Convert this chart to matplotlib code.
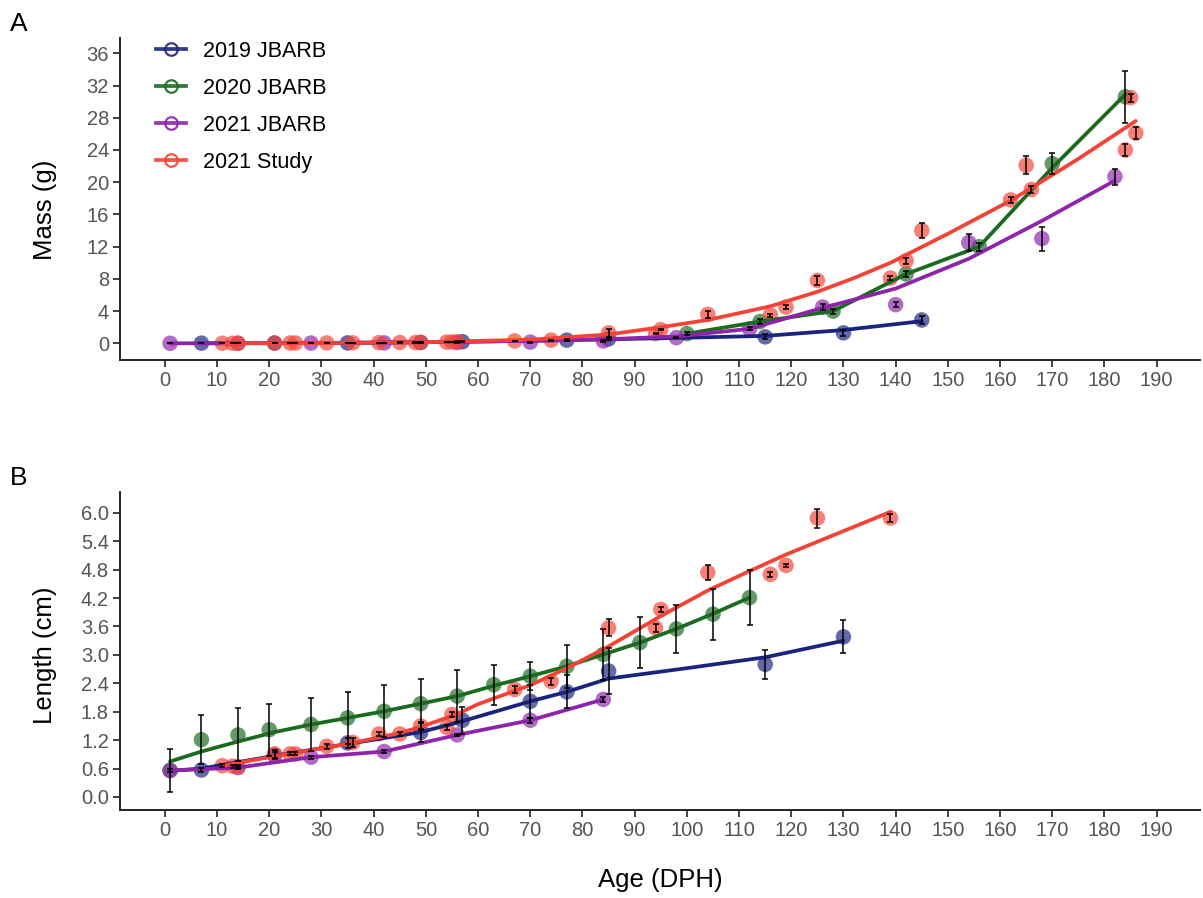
import matplotlib
matplotlib.use("Agg")
import matplotlib.pyplot as plt
from matplotlib.lines import Line2D

plt.rcParams['font.family'] = ['Liberation Sans', 'DejaVu Sans']

# ---------------- colours / labels ----------------
series_names = ["2019 JBARB", "2020 JBARB", "2021 JBARB", "2021 Study"]
series_colors = ["#1a237e", "#1b6b1f", "#8e24aa", "#f44336"]

# ---------------- Panel A: mass (g) ----------------
blue_mass_day = [7, 21, 35, 49, 57, 77, 85, 115, 130, 145]
blue_mass = [0.02, 0.03, 0.05, 0.1, 0.2, 0.4, 0.55, 0.8, 1.3, 2.9]
blue_mass_err = [0.01, 0.01, 0.02, 0.03, 0.05, 0.1, 0.15, 0.3, 0.35, 0.5]

green_mass_day = [100, 114, 128, 142, 156, 170, 184]
green_mass = [1.2, 2.7, 4.0, 8.6, 12.0, 22.3, 30.6]
green_mass_err = [0.15, 0.3, 0.3, 0.4, 0.5, 1.3, 3.2]

purple_mass_day = [1, 14, 28, 42, 56, 70, 84, 98, 112, 126, 140, 154, 168, 182]
purple_mass = [0.0, 0.01, 0.03, 0.05, 0.1, 0.15, 0.3, 0.7, 1.8, 4.5, 4.8, 12.5, 13.0, 20.7]
purple_mass_err = [0.005, 0.01, 0.01, 0.02, 0.03, 0.05, 0.08, 0.1, 0.2, 0.35, 0.35, 1.1, 1.5, 1.0]

red_mass_day = [11, 13, 14, 21, 24, 25, 31, 36, 41, 45, 48, 49, 54, 55, 56, 67, 74,
                85, 94, 95, 104, 116, 119, 125, 139, 142, 145, 162, 165, 166, 184, 185, 186]
red_mass = [0.01, 0.01, 0.01, 0.03, 0.04, 0.04, 0.05, 0.06, 0.08, 0.1, 0.1, 0.12, 0.15, 0.17, 0.2, 0.3, 0.4,
            1.3, 1.2, 1.7, 3.6, 3.5, 4.5, 7.8, 8.1, 10.25, 14.0, 17.8, 22.1, 19.1, 24.0, 30.5, 26.1]
red_mass_err = [0.005, 0.005, 0.005, 0.01, 0.01, 0.01, 0.01, 0.01, 0.02, 0.02, 0.02, 0.02, 0.03, 0.03, 0.03, 0.05, 0.05,
                0.5, 0.1, 0.1, 0.4, 0.2, 0.2, 0.6, 0.3, 0.4, 0.9, 0.4, 1.1, 0.4, 0.8, 0.5, 0.7]

# fitted (smoothed) curves
blue_mass_fit_day = [7, 35, 57, 77, 85, 100, 115, 130, 145]
blue_mass_fit = [0.0, 0.05, 0.2, 0.4, 0.5, 0.7, 0.92, 1.65, 2.75]
green_mass_fit_day = [100, 114, 128, 142, 156, 170, 184]
green_mass_fit = [1.2, 2.7, 4.0, 8.6, 12.0, 21.8, 30.9]
purple_mass_fit_day = [1, 14, 28, 42, 56, 70, 84, 98, 112, 126, 140, 154, 168, 182]
purple_mass_fit = [0.0, 0.02, 0.05, 0.1, 0.18, 0.3, 0.5, 0.85, 1.8, 4.4, 6.8, 10.5, 15.2, 20.2]
red_mass_fit_day = [11, 30, 50, 70, 85, 95, 104, 116, 125, 132, 139, 150, 162, 175, 186]
red_mass_fit = [0.0, 0.03, 0.15, 0.45, 1.1, 2.0, 2.9, 4.6, 6.4, 8.1, 10.0, 13.6, 17.7, 22.9, 27.6]

# ---------------- Panel B: length (cm) ----------------
blue_len_day = [7, 21, 35, 49, 57, 70, 77, 85, 115, 130]
blue_len = [0.57, 0.88, 1.14, 1.36, 1.62, 2.02, 2.22, 2.66, 2.80, 3.38]
blue_len_err = [0.05, 0.08, 0.1, 0.2, 0.28, 0.35, 0.35, 0.48, 0.3, 0.35]

green_len_day = [1, 7, 14, 20, 28, 35, 42, 49, 56, 63, 70, 77, 84, 91, 98, 105, 112]
green_len = [0.56, 1.21, 1.31, 1.42, 1.53, 1.67, 1.81, 1.97, 2.13, 2.37, 2.55, 2.76, 3.01, 3.26, 3.55, 3.86, 4.21]
green_len_err = [0.46, 0.52, 0.56, 0.55, 0.55, 0.55, 0.55, 0.53, 0.55, 0.42, 0.3, 0.45, 0.53, 0.53, 0.51, 0.54, 0.58]

purple_len_day = [1, 14, 28, 42, 56, 70, 84]
purple_len = [0.56, 0.62, 0.84, 0.96, 1.31, 1.62, 2.06]
purple_len_err = [0.03, 0.03, 0.03, 0.03, 0.03, 0.05, 0.05]

red_len_day = [11, 13, 14, 21, 24, 25, 31, 36, 41, 45, 49, 54, 55, 67, 74,
               85, 94, 95, 104, 116, 119, 125, 139]
red_len = [0.66, 0.65, 0.64, 0.91, 0.91, 0.91, 1.07, 1.15, 1.33, 1.33, 1.50, 1.47, 1.74, 2.27, 2.44,
           3.57, 3.57, 3.96, 4.74, 4.70, 4.89, 5.89, 5.89]
red_len_err = [0.03, 0.03, 0.03, 0.08, 0.03, 0.03, 0.05, 0.1, 0.04, 0.04, 0.08, 0.05, 0.05, 0.08, 0.08,
               0.18, 0.08, 0.05, 0.15, 0.06, 0.03, 0.2, 0.08]

blue_len_fit_day = [1, 7, 21, 35, 49, 57, 70, 77, 85, 100, 115, 130]
blue_len_fit = [0.55, 0.6, 0.87, 1.12, 1.37, 1.6, 2.02, 2.22, 2.5, 2.72, 2.95, 3.3]
green_len_fit_day = [1, 7, 14, 21, 28, 35, 42, 49, 56, 63, 70, 77, 84, 91, 98, 105, 112]
green_len_fit = [0.75, 0.96, 1.17, 1.37, 1.53, 1.67, 1.81, 1.97, 2.13, 2.35, 2.55, 2.76, 3.01, 3.26, 3.55, 3.87, 4.21]
purple_len_fit_day = [1, 14, 28, 42, 56, 70, 84]
purple_len_fit = [0.56, 0.62, 0.84, 0.96, 1.31, 1.62, 2.06]
red_len_fit_day = [11, 21, 35, 45, 49, 56, 60, 70, 77, 85, 95, 104, 112, 119, 139]
red_len_fit = [0.66, 0.86, 1.12, 1.35, 1.48, 1.75, 1.96, 2.36, 2.72, 3.18, 3.82, 4.36, 4.77, 5.12, 6.02]

x_ticks = list(range(0, 200, 10))
mass_ticks = list(range(0, 40, 4))
len_ticks = [0.0, 0.6, 1.2, 1.8, 2.4, 3.0, 3.6, 4.2, 4.8, 5.4, 6.0]

# ---------------- figure ----------------
W, H = 1203, 898
fig = plt.figure(figsize=(W / 100, H / 100), dpi=100)

def ax_rect(l, t, r, b):
    return [l / W, 1 - b / H, (r - l) / W, (b - t) / H]

axA = fig.add_axes(ax_rect(120, 38, 1200, 360))
axB = fig.add_axes(ax_rect(120, 492, 1200, 810))

def style(ax, yticks, fmt):
    for s in ["top", "right"]:
        ax.spines[s].set_visible(False)
    for s in ["left", "bottom"]:
        ax.spines[s].set_linewidth(1.4)
        ax.spines[s].set_color("#222222")
    ax.set_xticks(x_ticks)
    ax.set_xticklabels([str(t) for t in x_ticks])
    ax.set_yticks(yticks)
    ax.set_yticklabels([fmt.format(t) for t in yticks])
    ax.tick_params(axis="both", length=5, width=1.2, color="#222222",
                   labelsize=14.5, labelcolor="#555555", pad=3)
    ax.set_xlim(-8.6, 198.3)

def draw(ax, days, vals, errs, fdays, fvals, color):
    ax.scatter(days, vals, s=125, color=color, alpha=0.68, edgecolors="none", zorder=2)
    ax.plot(fdays, fvals, color=color, lw=2.7, zorder=3, solid_capstyle="round",
            solid_joinstyle="round")
    ax.errorbar(days, vals, yerr=errs, fmt="none", ecolor="black", elinewidth=1.1,
                capsize=2.4, capthick=1.1, zorder=4)

style(axA, mass_ticks, "{:d}")
axA.set_ylim(-2.07, 37.9)
draw(axA, blue_mass_day, blue_mass, blue_mass_err, blue_mass_fit_day, blue_mass_fit, series_colors[0])
draw(axA, green_mass_day, green_mass, green_mass_err, green_mass_fit_day, green_mass_fit, series_colors[1])
draw(axA, purple_mass_day, purple_mass, purple_mass_err, purple_mass_fit_day, purple_mass_fit, series_colors[2])
draw(axA, red_mass_day, red_mass, red_mass_err, red_mass_fit_day, red_mass_fit, series_colors[3])

style(axB, len_ticks, "{:.1f}")
axB.set_ylim(-0.275, 6.44)
draw(axB, blue_len_day, blue_len, blue_len_err, blue_len_fit_day, blue_len_fit, series_colors[0])
draw(axB, green_len_day, green_len, green_len_err, green_len_fit_day, green_len_fit, series_colors[1])
draw(axB, purple_len_day, purple_len, purple_len_err, purple_len_fit_day, purple_len_fit, series_colors[2])
draw(axB, red_len_day, red_len, red_len_err, red_len_fit_day, red_len_fit, series_colors[3])

handles = [Line2D([0], [0], color=c, lw=2.7, marker="o", markersize=9,
                  markerfacecolor="none", markeredgecolor=c, markeredgewidth=1.6, alpha=0.9)
           for c in series_colors]
axA.legend(handles, series_names, loc="upper left", bbox_to_anchor=(0.015, 1.051),
           frameon=False, fontsize=15.5, handlelength=1.4, handletextpad=0.8,
           labelspacing=0.74)

fig.text(45 / W, 1 - 210 / H, "Mass (g)", rotation=90, ha="center", va="center", fontsize=18.5)
fig.text(45 / W, 1 - 655 / H, "Length (cm)", rotation=90, ha="center", va="center", fontsize=18.5)
fig.text(660 / W, 1 - 880 / H, "Age (DPH)", ha="center", va="center", fontsize=18.5)
fig.text(10 / W, 1 - 24 / H, "A", ha="left", va="center", fontsize=19)
fig.text(10 / W, 1 - 478 / H, "B", ha="left", va="center", fontsize=19)

fig.savefig("out.png", dpi=100)
